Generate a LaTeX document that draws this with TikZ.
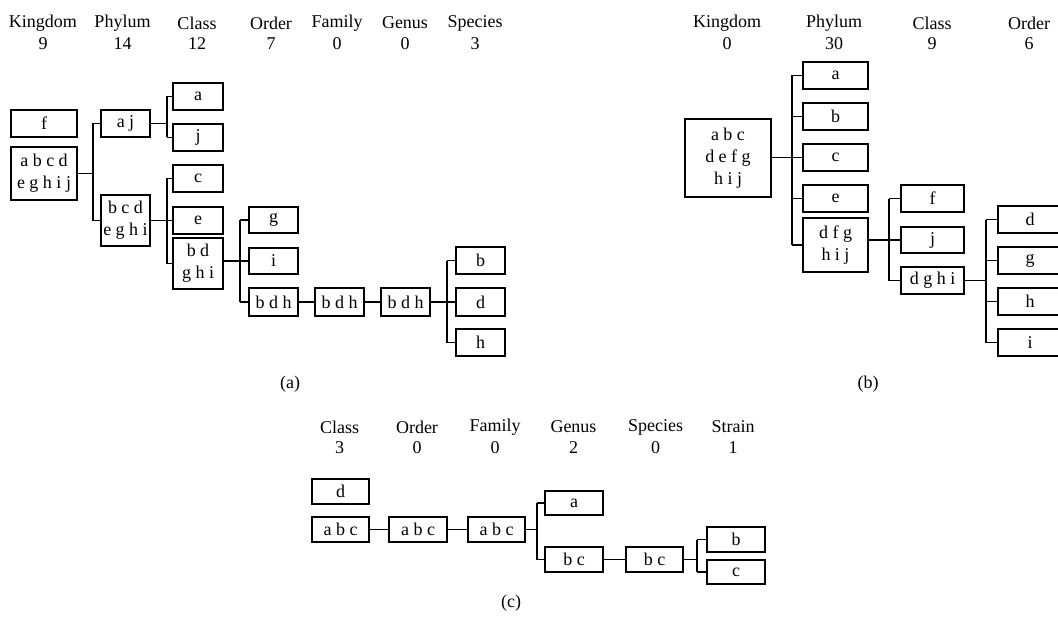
\documentclass[tikz,border=0pt]{standalone}
\usepackage{fontspec}
\setmainfont{Liberation Serif}
\begin{document}
\begin{tikzpicture}[x=1pt,y=-1pt,
  tb/.style={draw, line width=1.1pt, inner sep=0pt, align=center,
    font=\fontsize{18}{22}\selectfont},
  hd/.style={inner sep=0pt, font=\fontsize{18}{22}\selectfont},
  ln/.style={line width=1.1pt}]
\useasboundingbox (0,0) rectangle (1058,623);
\clip (0,0) rectangle (1058,623);
\newcommand\tbox[6]{\node[tb, minimum width={(#4-#2)*1pt}, minimum height={(#5-#3)*1pt}] (#1) at ({(#2+#4)/2},{(#3+#5)/2}) {#6};}
\newcommand\hdr[4]{\node[hd] (#1n) at (#2,#3) {#4};}
\newcommand\num[4]{\node[hd] (#1v) at (#2,#3) {#4};}
% ---------- headers (a)
\hdr{aK}{43}{23}{Kingdom}\num{aK}{43}{43.5}{9}
\hdr{aP}{122.5}{23}{Phylum}\num{aP}{122.5}{43.5}{14}
\hdr{aC}{197}{23}{Class}\num{aC}{197}{43.5}{12}
\hdr{aO}{271}{23}{Order}\num{aO}{271}{43.5}{7}
\hdr{aF}{337}{23}{Family}\num{aF}{337}{43.5}{0}
\hdr{aG}{405}{23}{Genus}\num{aG}{405}{43.5}{0}
\hdr{aS}{475}{23}{Species}\num{aS}{475}{43.5}{3}
% ---------- boxes (a)
\tbox{af}{11}{110}{77}{137}{f}
\tbox{aabcd}{11}{147}{77}{200}{a b c d\\e g h i j}
\tbox{aaj}{101}{110}{150}{137}{a j}
\tbox{abcd}{101}{195}{150}{246}{b c d\\e g h i}
\tbox{aa}{173}{83}{223}{110}{a}
\tbox{aj}{173}{124}{223}{151}{j}
\tbox{ac}{173}{165}{223}{192}{c}
\tbox{ae}{173}{207}{223}{234}{e}
\tbox{abdghi}{173}{238}{223}{289}{b d\\g h i}
\tbox{ag}{249}{207}{298}{233}{g}
\tbox{ai}{249}{248}{298}{274}{i}
\tbox{abdhA}{249}{288}{298}{316}{b d h}
\tbox{abdhB}{315}{288}{364}{316}{b d h}
\tbox{abdhC}{381}{288}{430}{316}{b d h}
\tbox{ab}{456}{247}{505}{274}{b}
\tbox{ad}{456}{288}{505}{316}{d}
\tbox{ah}{456}{329}{505}{356}{h}
\coordinate (brA1) at (93,0);
\coordinate (brA2) at (167,0);
\coordinate (brA3) at (240,0);
\coordinate (brA4) at (447,0);
% connectors (a)
\draw[ln] (aabcd.east) -- (aabcd.east -| brA1);
\draw[ln] (aaj.west -| brA1) -- (abcd.west -| brA1);
\draw[ln] (aaj.west -| brA1) -- (aaj.west);
\draw[ln] (abcd.west -| brA1) -- (abcd.west);
\draw[ln] (aaj.east) -- (aaj.east -| brA2);
\draw[ln] (aa.west -| brA2) -- (aj.west -| brA2);
\draw[ln] (aa.west -| brA2) -- (aa.west);
\draw[ln] (aj.west -| brA2) -- (aj.west);
\draw[ln] (abcd.east) -- (ae.west);
\draw[ln] (ac.west -| brA2) -- (abdghi.west -| brA2);
\draw[ln] (ac.west -| brA2) -- (ac.west);
\draw[ln] (abdghi.west -| brA2) -- (abdghi.west);
\draw[ln] (abdghi.east |- ai.west) -- (ai.west);
\draw[ln] (ag.west -| brA3) -- (abdhA.west -| brA3);
\draw[ln] (ag.west -| brA3) -- (ag.west);
\draw[ln] (abdhA.west -| brA3) -- (abdhA.west);
\draw[ln] (abdhA) -- (abdhB);
\draw[ln] (abdhB) -- (abdhC);
\draw[ln] (abdhC.east) -- (ad.west);
\draw[ln] (ab.west -| brA4) -- (ah.west -| brA4);
\draw[ln] (ab.west -| brA4) -- (ab.west);
\draw[ln] (ah.west -| brA4) -- (ah.west);
\node[hd] (capa) at (290,384) {(a)};
% ---------- headers (b)
\hdr{bK}{727}{23}{Kingdom}\num{bK}{727}{43.5}{0}
\hdr{bP}{834}{23}{Phylum}\num{bP}{834}{43.5}{30}
\hdr{bC}{932}{23}{Class}\num{bC}{932}{43.5}{9}
\hdr{bO}{1029}{23}{Order}\num{bO}{1029}{43.5}{6}
% ---------- boxes (b)
\tbox{bbig}{685}{119}{771}{197}{a b c\\d e f g\\h i j}
\tbox{ba}{803}{62}{868}{89}{a}
\tbox{bb}{803}{103}{868}{130}{b}
\tbox{bc}{803}{144}{868}{171}{c}
\tbox{be}{803}{185}{868}{212}{e}
\tbox{bdfg}{803}{218}{868}{272}{d f g\\h i j}
\tbox{bf}{901}{185}{964}{212}{f}
\tbox{bj}{901}{227}{964}{253}{j}
\tbox{bdghi}{901}{267}{964}{294}{d g h i}
\tbox{bd}{998}{206}{1062}{233}{d}
\tbox{bg}{998}{247}{1062}{274}{g}
\tbox{bh}{998}{288}{1062}{315}{h}
\tbox{bi}{998}{329}{1062}{356}{i}
\coordinate (brB1) at (792,0);
\coordinate (brB2) at (889,0);
\coordinate (brB3) at (986,0);
\draw[ln] (bbig.east |- bc.west) -- (bc.west);
\draw[ln] (ba.west -| brB1) -- (bdfg.west -| brB1);
\foreach \n in {ba,bb,be,bdfg} \draw[ln] (\n.west -| brB1) -- (\n.west);
\draw[ln] (bdfg.east |- bj.west) -- (bj.west);
\draw[ln] (bf.west -| brB2) -- (bdghi.west -| brB2);
\foreach \n in {bf,bdghi} \draw[ln] (\n.west -| brB2) -- (\n.west);
\draw[ln] (bdghi.east) -- (bdghi.east -| brB3);
\draw[ln] (bd.west -| brB3) -- (bi.west -| brB3);
\foreach \n in {bd,bg,bh,bi} \draw[ln] (\n.west -| brB3) -- (\n.west);
\node[hd] (capb) at (868,384) {(b)};
% ---------- headers (c)
\hdr{cC}{339.5}{427}{Class}\num{cC}{339.5}{447.5}{3}
\hdr{cO}{417}{427}{Order}\num{cO}{417}{447.5}{0}
\hdr{cF}{495}{427}{Family}\num{cF}{495}{447.5}{0}
\hdr{cG}{573.5}{427}{Genus}\num{cG}{573.5}{447.5}{2}
\hdr{cS}{655.5}{427}{Species}\num{cS}{655.5}{447.5}{0}
\hdr{cT}{733}{427}{Strain}\num{cT}{733}{447.5}{1}
% ---------- boxes (c)
\tbox{cd}{312}{479}{369}{504}{d}
\tbox{cabcA}{312}{517}{369}{542}{a b c}
\tbox{cabcB}{389}{517}{447}{542}{a b c}
\tbox{cabcC}{468}{517}{525}{542}{a b c}
\tbox{ca}{545}{491}{603}{515}{a}
\tbox{cbcA}{545}{547}{603}{572}{b c}
\tbox{cbcB}{626}{547}{683}{572}{b c}
\tbox{cb}{707}{527}{765}{552}{b}
\tbox{cc}{707}{560}{765}{584}{c}
\coordinate (brC1) at (537,0);
\coordinate (brC2) at (697,0);
\draw[ln] (cabcA) -- (cabcB);
\draw[ln] (cabcB) -- (cabcC);
\draw[ln] (cabcC.east) -- (cabcC.east -| brC1);
\draw[ln] (ca.west -| brC1) -- (cbcA.west -| brC1);
\foreach \n in {ca,cbcA} \draw[ln] (\n.west -| brC1) -- (\n.west);
\draw[ln] (cbcA) -- (cbcB);
\draw[ln] (cbcB.east) -- (cbcB.east -| brC2);
\draw[ln] (cb.west -| brC2) -- (cc.west -| brC2);
\foreach \n in {cb,cc} \draw[ln] (\n.west -| brC2) -- (\n.west);
\node[hd] (capc) at (511,603) {(c)};
\end{tikzpicture}
\end{document}
